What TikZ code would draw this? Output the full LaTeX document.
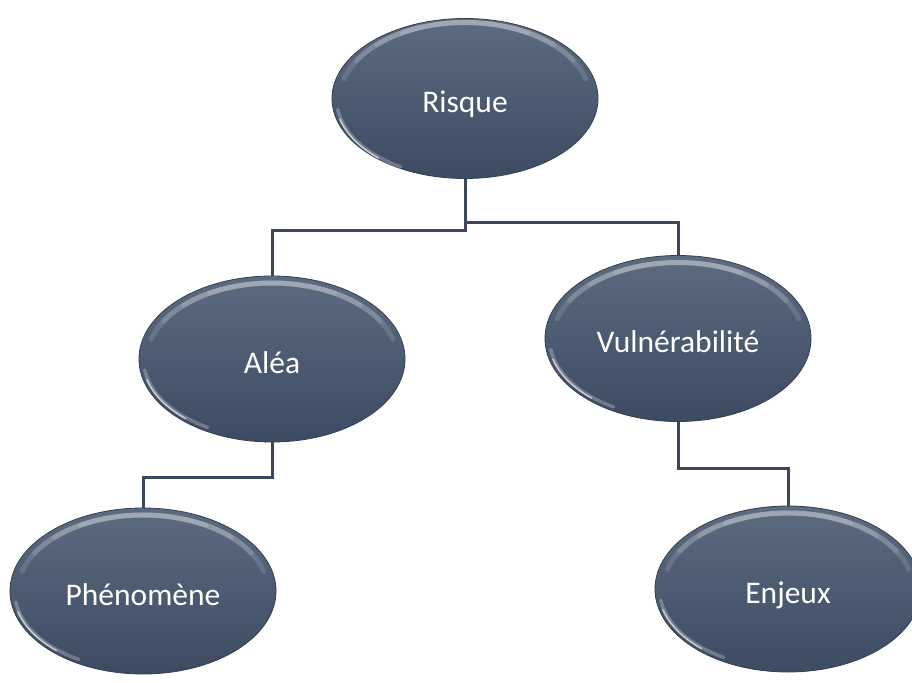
\documentclass[tikz,border=0pt]{standalone}
\usepackage{fontspec}
\setmainfont{Carlito}
\usetikzlibrary{shapes.geometric,calc}
\definecolor{bubtop}{HTML}{5C6B80}
\definecolor{bubbot}{HTML}{3C4B62}
\definecolor{bubrim}{HTML}{34404F}
\definecolor{linec}{HTML}{3A4759}
\tikzset{
  bub/.style={ellipse, minimum width=266pt, minimum height=166pt, inner sep=0pt,
    top color=bubtop, bottom color=bubbot, draw=bubrim, line width=0.8pt,
    text=white, text height=28pt, text depth=0pt,
    font=\fontsize{31.5}{38}\selectfont},
  conn/.style={draw=linec, line width=3pt},
  gloss/.style={white, opacity=0.13, line width=5pt, line cap=round},
  glint/.style={white, line cap=round}
}
\newcommand\bevelize[1]{%
  \foreach \a/\b in {165/15,150/30,135/45,120/60}{
    \draw[gloss] ($(#1.center)+(\a:125pt and 76pt)$) arc[start angle=\a, end angle=\b, x radius=125pt, y radius=76pt];
  }
  \draw[glint, opacity=0.25, line width=3.5pt] ($(#1.center)+(188:128.5pt and 79pt)$) arc[start angle=188, end angle=240, x radius=128.5pt, y radius=79pt];
  \draw[glint, opacity=0.6, line width=1.6pt] ($(#1.center)+(195:129.5pt and 80pt)$) arc[start angle=195, end angle=228, x radius=129.5pt, y radius=80pt];
}
\begin{document}
\begin{tikzpicture}
\useasboundingbox (0pt,0pt) rectangle (912pt,-682pt);
\fill[white] (0pt,0pt) rectangle (912pt,-682pt);
\node[bub, minimum height=160pt] (risque) at (465pt,-98.5pt) {Risque};
\node[bub] (alea) at (272pt,-359pt) {Aléa};
\node[bub] (vuln) at (678pt,-338.5pt) {Vulnérabilité};
\node[bub] (phen) at (143pt,-591pt) {Phénomène};
\node[bub] (enjeux) at (788pt,-589pt) {Enjeux};
\bevelize{risque}\bevelize{alea}\bevelize{vuln}\bevelize{phen}\bevelize{enjeux}
\coordinate (ya) at (0pt,-230pt);
\coordinate (yv) at (0pt,-222pt);
\coordinate (yp) at (0pt,-477pt);
\coordinate (ye) at (0pt,-468pt);
\draw[conn] (risque.south) -- (risque.south |- ya) -| (alea.north);
\draw[conn] (risque.south) -- (risque.south |- yv) -| (vuln.north);
\draw[conn] (alea.south) -- (alea.south |- yp) -| (phen.north);
\draw[conn] (vuln.south) -- (vuln.south |- ye) -| (enjeux.north);
\end{tikzpicture}
\end{document}
